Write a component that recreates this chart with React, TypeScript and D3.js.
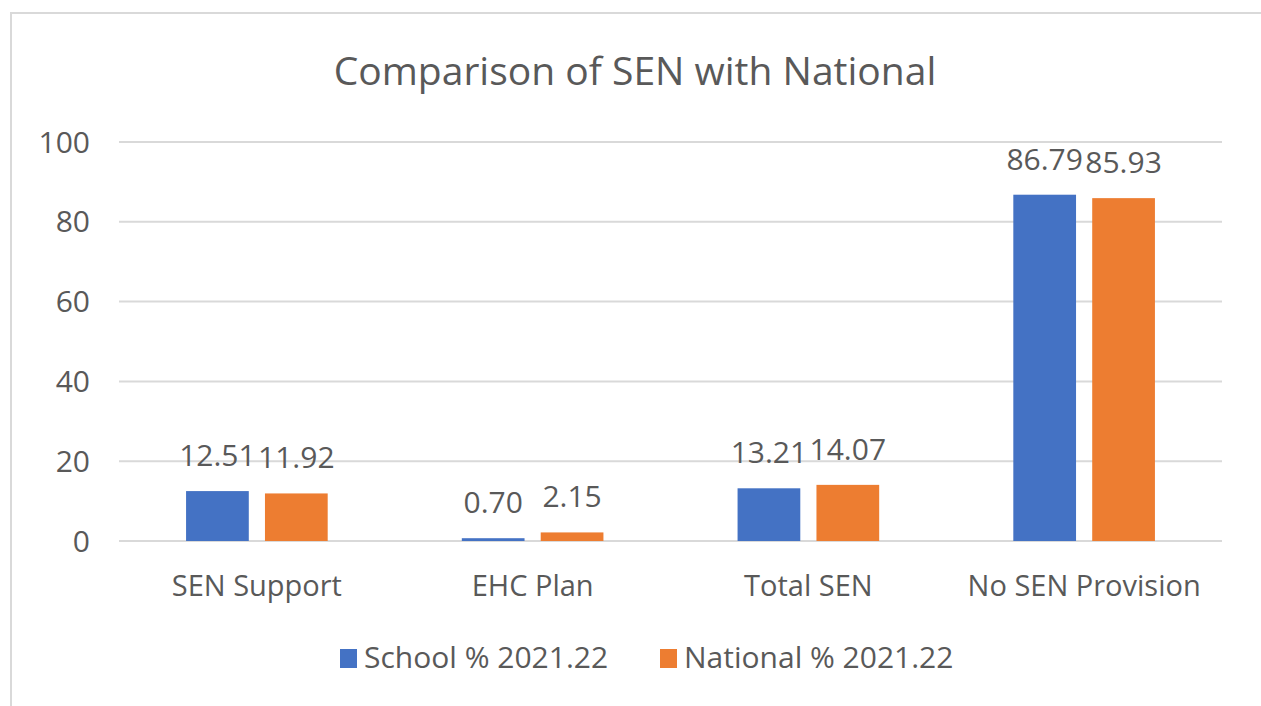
import { useEffect, useRef } from "react";
import * as d3 from "d3";

const categories = ["SEN Support", "EHC Plan", "Total SEN", "No SEN Provision"];
const seriesNames = ["School % 2021.22", "National % 2021.22"];
const schoolValues = [12.51, 0.7, 13.21, 86.79];
const nationalValues = [11.92, 2.15, 14.07, 85.93];
const yTicks = [0, 20, 40, 60, 80, 100];
const colors = ["#4472C4", "#ED7D31"];

const W = 1261;
const H = 706;
const textColor = "#595959";
const font = "'Open Sans', sans-serif";

export default function App() {
  const ref = useRef<SVGSVGElement>(null);

  useEffect(() => {
    const svg = d3.select(ref.current);
    svg.selectAll("*").remove();

    // chart border
    svg.append("rect")
      .attr("x", 11)
      .attr("y", 13)
      .attr("width", W + 20)
      .attr("height", H + 20)
      .attr("fill", "white")
      .attr("stroke", "#d9d9d9")
      .attr("stroke-width", 2);

    const x0 = d3.scaleBand().domain(categories).range([119, 1222]);
    const x1 = d3.scaleBand()
      .domain(seriesNames)
      .range([0, x0.bandwidth()])
      .paddingInner(0.205)
      .paddingOuter(0.85);
    const y = d3.scaleLinear().domain([0, 100]).range([541, 142]);

    // gridlines
    svg.append("g")
      .selectAll("line")
      .data(yTicks)
      .join("line")
      .attr("x1", 119)
      .attr("x2", 1222)
      .attr("y1", d => y(d))
      .attr("y2", d => y(d))
      .attr("stroke", "#d9d9d9")
      .attr("stroke-width", 2);

    // y tick labels
    svg.append("g")
      .selectAll("text")
      .data(yTicks)
      .join("text")
      .attr("x", 90)
      .attr("y", d => y(d))
      .attr("dy", "0.35em")
      .attr("text-anchor", "end")
      .attr("font-family", font)
      .attr("font-size", 30)
      .attr("fill", textColor)
      .text(d => d);

    const rows = categories.map((c, i) => ({
      category: c,
      values: [schoolValues[i], nationalValues[i]],
    }));

    const groups = svg.append("g")
      .selectAll("g")
      .data(rows)
      .join("g")
      .attr("transform", d => `translate(${x0(d.category)},0)`);

    groups.selectAll("rect")
      .data(d => d.values.map((v, j) => ({ v, s: seriesNames[j], j })))
      .join("rect")
      .attr("x", d => x1(d.s)!)
      .attr("width", x1.bandwidth())
      .attr("y", d => y(d.v))
      .attr("height", d => y(0) - y(d.v))
      .attr("fill", d => colors[d.j]);

    groups.selectAll("text")
      .data(d => d.values.map((v, j) => ({ v, s: seriesNames[j] })))
      .join("text")
      .attr("x", d => x1(d.s)! + x1.bandwidth() / 2)
      .attr("y", d => y(d.v) - 25)
      .attr("text-anchor", "middle")
      .attr("font-family", font)
      .attr("font-size", 30)
      .attr("fill", textColor)
      .text(d => d.v.toFixed(2));

    // category labels
    svg.append("g")
      .selectAll("text")
      .data(categories)
      .join("text")
      .attr("x", d => x0(d)! + x0.bandwidth() / 2)
      .attr("y", 596)
      .attr("text-anchor", "middle")
      .attr("font-family", font)
      .attr("font-size", 29)
      .attr("fill", textColor)
      .text(d => d);

    // title
    svg.append("text")
      .attr("x", 635)
      .attr("y", 85)
      .attr("text-anchor", "middle")
      .attr("font-family", font)
      .attr("font-size", 39)
      .attr("fill", textColor)
      .text("Comparison of SEN with National");

    // legend
    const legendX = [340, 660];
    const legend = svg.append("g")
      .selectAll("g")
      .data(seriesNames)
      .join("g")
      .attr("transform", (_, i) => `translate(${legendX[i]},649)`);
    legend.append("rect")
      .attr("width", 17)
      .attr("height", 19)
      .attr("fill", (_, i) => colors[i]);
    legend.append("text")
      .attr("x", 24)
      .attr("y", 19)
      .attr("font-family", font)
      .attr("font-size", 30)
      .attr("fill", textColor)
      .text(d => d);
  }, []);

  return (
    <svg
      ref={ref}
      width={W}
      height={H}
      style={{ position: "absolute", left: 0, top: 0, display: "block" }}
    />
  );
}
